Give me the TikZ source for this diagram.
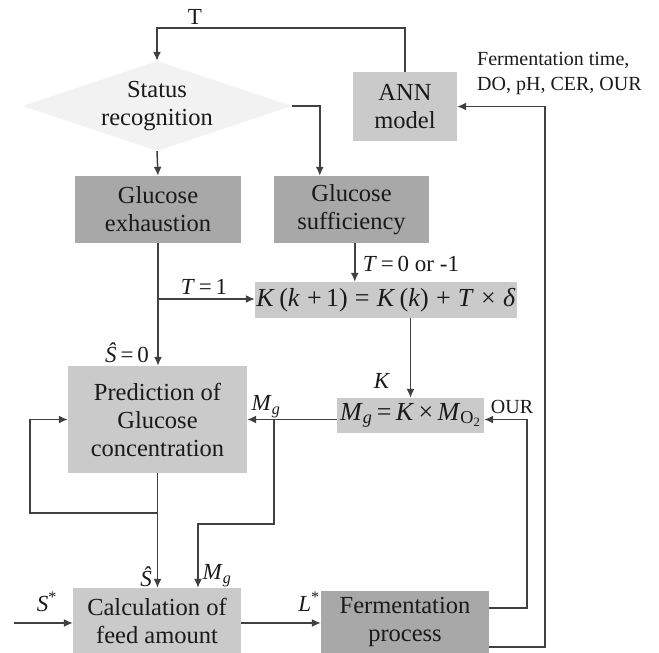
\documentclass[tikz,border=0pt]{standalone}
\usepackage{fontspec}
\setmainfont{Liberation Serif}
\usetikzlibrary{shapes.geometric,arrows.meta}
\definecolor{boxdark}{HTML}{A8A8A8}
\definecolor{boxlight}{HTML}{CACACA}
\definecolor{diamc}{HTML}{F2F2F2}
\definecolor{linec}{HTML}{404040}
\definecolor{txtc}{HTML}{1A1A1A}
\newcommand{\fs}{\fontsize{24.5}{28}\selectfont}
\newcommand{\lfs}{\fontsize{23}{25}\selectfont}
\newcommand{\sfs}{\fontsize{20}{25}\selectfont}
\newcommand{\eqfs}{\fontsize{26}{28}\selectfont}
\newcommand{\mi}[1]{\textit{#1}}
\begin{document}
\begin{tikzpicture}[x=1pt,y=-1pt,
  box/.style={rectangle, inner sep=0pt, align=center, font=\fs, text=txtc},
  dark/.style={box, fill=boxdark},
  light/.style={box, fill=boxlight},
  ln/.style={draw=linec, line width=1.5pt},
  arr/.style={ln, -{Latex[length=9pt,width=8pt]}},
  lab/.style={inner sep=0pt, font=\lfs, text=txtc}]
\useasboundingbox (0,0) rectangle (659,653);
% nodes
\node[diamond, aspect=3, inner sep=0pt, minimum width=270pt, minimum height=90pt,
      fill=diamc, align=center, font=\fs, text=txtc] (status) at (157,106) {Status\\recognition};
\node[light, minimum width=104pt, minimum height=69pt] (ann) at (405,106.5) {ANN\\model};
\node[dark, minimum width=166pt, minimum height=67pt] (exh) at (158,209.5) {Glucose\\exhaustion};
\node[dark, minimum width=155pt, minimum height=67pt] (suff) at (351.5,209.5) {Glucose\\sufficiency};
\node[light, minimum width=262pt, minimum height=36pt, font=\eqfs] (kbox) at (386,300)
  {\mi{K}\,(\mi{k}\;+\,1)\;=\;\mi{K}\,(\mi{k})\;+\;\mi{T}\;×\;\mi{δ}};
\node[light, minimum width=179pt, minimum height=107pt] (pred) at (157.5,419.5) {Prediction of\\Glucose\\concentration};
\node[light, minimum width=147pt, minimum height=35pt, font=\eqfs] (mg) at (410.5,415.5)
  {\mi{M}\textsubscript{\mi{g}}\,=\,\mi{K}\,×\,\mi{M}\textsubscript{O\textsubscript{2}}};
\node[light, minimum width=168pt, minimum height=65pt] (calc) at (157,620.5) {Calculation of\\feed amount};
\node[dark, minimum width=168pt, minimum height=62pt] (ferm) at (405,622) {Fermentation\\process};
% helper coordinates
\coordinate (tt) at (0,28);
\coordinate (br) at (0,299);
\coordinate (lp) at (157,513);
\coordinate (lx) at (30,0);
\coordinate (mgb) at (274,524);
\coordinate (mgc) at (198,0);
\coordinate (fl) at (0,623);
\coordinate (sin) at (14,0);
\coordinate (o1) at (527,608);
\coordinate (o2) at (545,647);
% connectors
\draw[arr] (ann.north) -- (ann.north |- tt) -| (status.north);
\draw[arr] (status.south) -- (exh.north);
\draw[arr] (status.east) -| ([xshift=46pt]suff.north west);
\draw[arr] ([xshift=81pt]suff.south west) -- ([xshift=81pt]suff.south west |- kbox.north);
\draw[arr] (exh.south) -- (exh.south |- pred.north);
\draw[arr] (exh.south |- br) -- (kbox.west |- br);
\draw[arr] (mg.north |- kbox.south) -- (mg.north);
\draw[arr] (mg.west |- pred.east) -- (pred.east);
\draw[arr] (mgb |- pred.east) -- (mgb) -| (mgc |- calc.north);
\draw[arr] (pred.south) -- (pred.south |- calc.north);
\draw[arr] (pred.south |- lp) -| (lx |- pred.west) -- (pred.west);
\draw[arr] (sin |- fl) -- (calc.west |- fl);
\draw[arr] (calc.east |- fl) -- (ferm.west |- fl);
\draw[arr] (ferm.east |- o1) -- (o1) -- (o1 |- pred.east) -- (mg.east |- pred.east);
\draw[arr] (ferm.east |- o2) -- (o2) -- (o2 |- ann.east) -- (ann.east);
% labels
\node[lab] (tl) at (195,17) {T};
\node[lab] (ft) [anchor=north west, align=left, font=\sfs] at (477,52) {Fermentation time,\\DO, pH, CER, OUR};
\node[lab] (t1) at (204,287) {\mi{T}\,=\,1};
\node[lab] (t0) at (411,264) {\mi{T}\,=\,0 or -1};
\node[lab] (s0) at (127,353) {\mi{Ŝ}\,=\,0};
\node[lab] (kl) at (382,381) {\mi{K}};
\node[lab] (mg1) at (266,407) {\mi{M}\textsubscript{\mi{g}}};
\node[lab, font=\sfs] (our) at (512,407) {OUR};
\node[lab] (sh) at (146,577) {\mi{Ŝ}};
\node[lab] (mg2) at (217,576) {\mi{M}\textsubscript{\mi{g}}};
\node[lab] (ss) at (47,602) {\mi{S}\textsuperscript{*}};
\node[lab] (ls) at (309,602) {\mi{L}\textsuperscript{*}};
\end{tikzpicture}
\end{document}
